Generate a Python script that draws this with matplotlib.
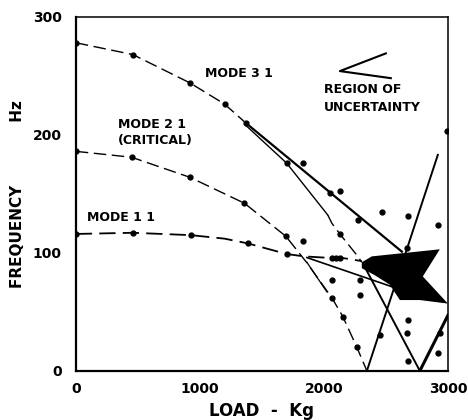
import matplotlib.pyplot as plt
import numpy as np

# Frequency vs load

# Mode 3 1 (top curve) and its two branches
m31_load = [0, 460, 920, 1200, 1371]
m31_hz = [278, 268, 244, 226, 210]
m31_up_load = [1371, 2629]
m31_up_hz = [210, 101]
m31_lo_load = [1371, 1700, 2032]
m31_lo_hz = [208, 176, 132]
m31_tail_load = [2032, 2065, 2129, 2274, 2306]
m31_tail_hz = [132, 125, 116, 97, 92]

# Mode 2 1 (critical) - goes to zero
m21_load = [0, 450, 920, 1360, 1694, 1860, 2064, 2153, 2266, 2347]
m21_hz = [186, 181, 164, 142, 114, 92, 62, 46, 20, 0]
m21_pts_load = [0, 450, 920, 1360, 1694, 2064, 2153, 2266]
m21_pts_hz = [186, 181, 164, 142, 114, 62, 46, 20]

# Mode 1 1
m11_load = [0, 460, 927, 1200, 1387, 1700, 1840, 2000, 2129, 2306]
m11_hz = [116, 117, 115, 112, 108, 99, 97, 96, 96, 93]
m11_pts_load = [0, 460, 927, 1387, 1700, 2064, 2100, 2129]
m11_pts_hz = [116, 117, 115, 108, 99, 96, 96, 96]

# straight lines in the uncertain region
junc_load = [1863, 2613]
junc_hz = [96, 69]
steep_load = [1863, 2024]
steep_hz = [92, 67]
lineA_load = [2347, 2919]
lineA_hz = [0, 183]
lineB_load = [2320, 2774]
lineB_hz = [90, 0]
lineC_load = [2774, 3000]
lineC_hz = [0, 47]

# region of uncertainty (black blob)
blob_load = [2306, 2387, 2935, 2798, 3000, 2774, 2613, 2532, 2411, 2306]
blob_hz = [92, 97, 103, 80, 57, 60, 60, 73, 81, 87]

# scattered points
dots_load = [1830, 1700, 2048, 2129, 2274, 2468, 2677, 2919, 1830, 2669, 2290, 2290,
             2677, 2669, 2919, 2677, 2452, 2935, 2992, 2064, 2129]
dots_hz = [176, 176, 151, 152, 128, 135, 131, 124, 110, 104, 64, 77,
           43, 32, 15, 8, 30, 32, 203, 77, 116]

# "<" pointer next to the label
ptr_load = [2500, 2129, 2540]
ptr_hz = [269, 254, 248]

fig = plt.figure(figsize=(4.68, 4.2), dpi=100)
ax = fig.add_axes([0.162, 0.117, 0.795, 0.843])

dash = (0, (9, 4))
ax.plot(m31_load, m31_hz, color='black', lw=1, ls=dash)
ax.plot(m31_load, m31_hz, 'o', color='black', ms=3.5)
ax.plot(m31_up_load, m31_up_hz, color='black', lw=1.6)
ax.plot(m31_lo_load, m31_lo_hz, color='black', lw=1)
ax.plot(m31_tail_load, m31_tail_hz, color='black', lw=1, ls=dash)

ax.plot(m21_load, m21_hz, color='black', lw=1, ls=dash)
ax.plot(m21_pts_load, m21_pts_hz, 'o', color='black', ms=3.5)

ax.plot(m11_load, m11_hz, color='black', lw=1.3, ls=dash)
ax.plot(m11_pts_load, m11_pts_hz, 'o', color='black', ms=3.5)

ax.plot(junc_load, junc_hz, color='black', lw=1.2)
ax.plot(steep_load, steep_hz, color='black', lw=0.9)
ax.plot(lineA_load, lineA_hz, color='black', lw=1.4)
ax.plot(lineB_load, lineB_hz, color='black', lw=1.4)
ax.plot(lineC_load, lineC_hz, color='black', lw=2.2)

ax.fill(blob_load, blob_hz, color='black', lw=0)
ax.plot(dots_load, dots_hz, 'o', color='black', ms=3.5)
ax.plot(ptr_load, ptr_hz, color='black', lw=1.5)

ax.text(1040, 252, 'MODE 3 1', fontsize=9, fontweight='bold', va='center')
ax.text(339, 209, 'MODE 2 1', fontsize=9, fontweight='bold', va='center')
ax.text(339, 195, '(CRITICAL)', fontsize=9, fontweight='bold', va='center')
ax.text(89, 130, 'MODE 1 1', fontsize=9, fontweight='bold', va='center')
ax.text(2000, 238, 'REGION OF', fontsize=9, fontweight='bold', va='center')
ax.text(2000, 223, 'UNCERTAINTY', fontsize=9, fontweight='bold', va='center')

ax.set_xlim(0, 3000)
ax.set_ylim(0, 300)
ax.set_xticks([0, 1000, 2000, 3000])
ax.set_yticks([0, 100, 200, 300])
ax.tick_params(length=0, labelsize=10, pad=10)
ax.tick_params(axis='x', pad=8)
for lab in ax.get_xticklabels() + ax.get_yticklabels():
    lab.set_fontweight('bold')
for s in ax.spines.values():
    s.set_linewidth(1.6)
ax.spines['top'].set_linewidth(1.1)
ax.spines['right'].set_linewidth(1.1)

ax.set_xlabel('LOAD  -  Kg', fontsize=12, fontweight='bold', labelpad=4)
ax.set_ylabel('FREQUENCY            Hz', fontsize=11, fontweight='bold', labelpad=6)

fig.savefig('out.png', dpi=100)
